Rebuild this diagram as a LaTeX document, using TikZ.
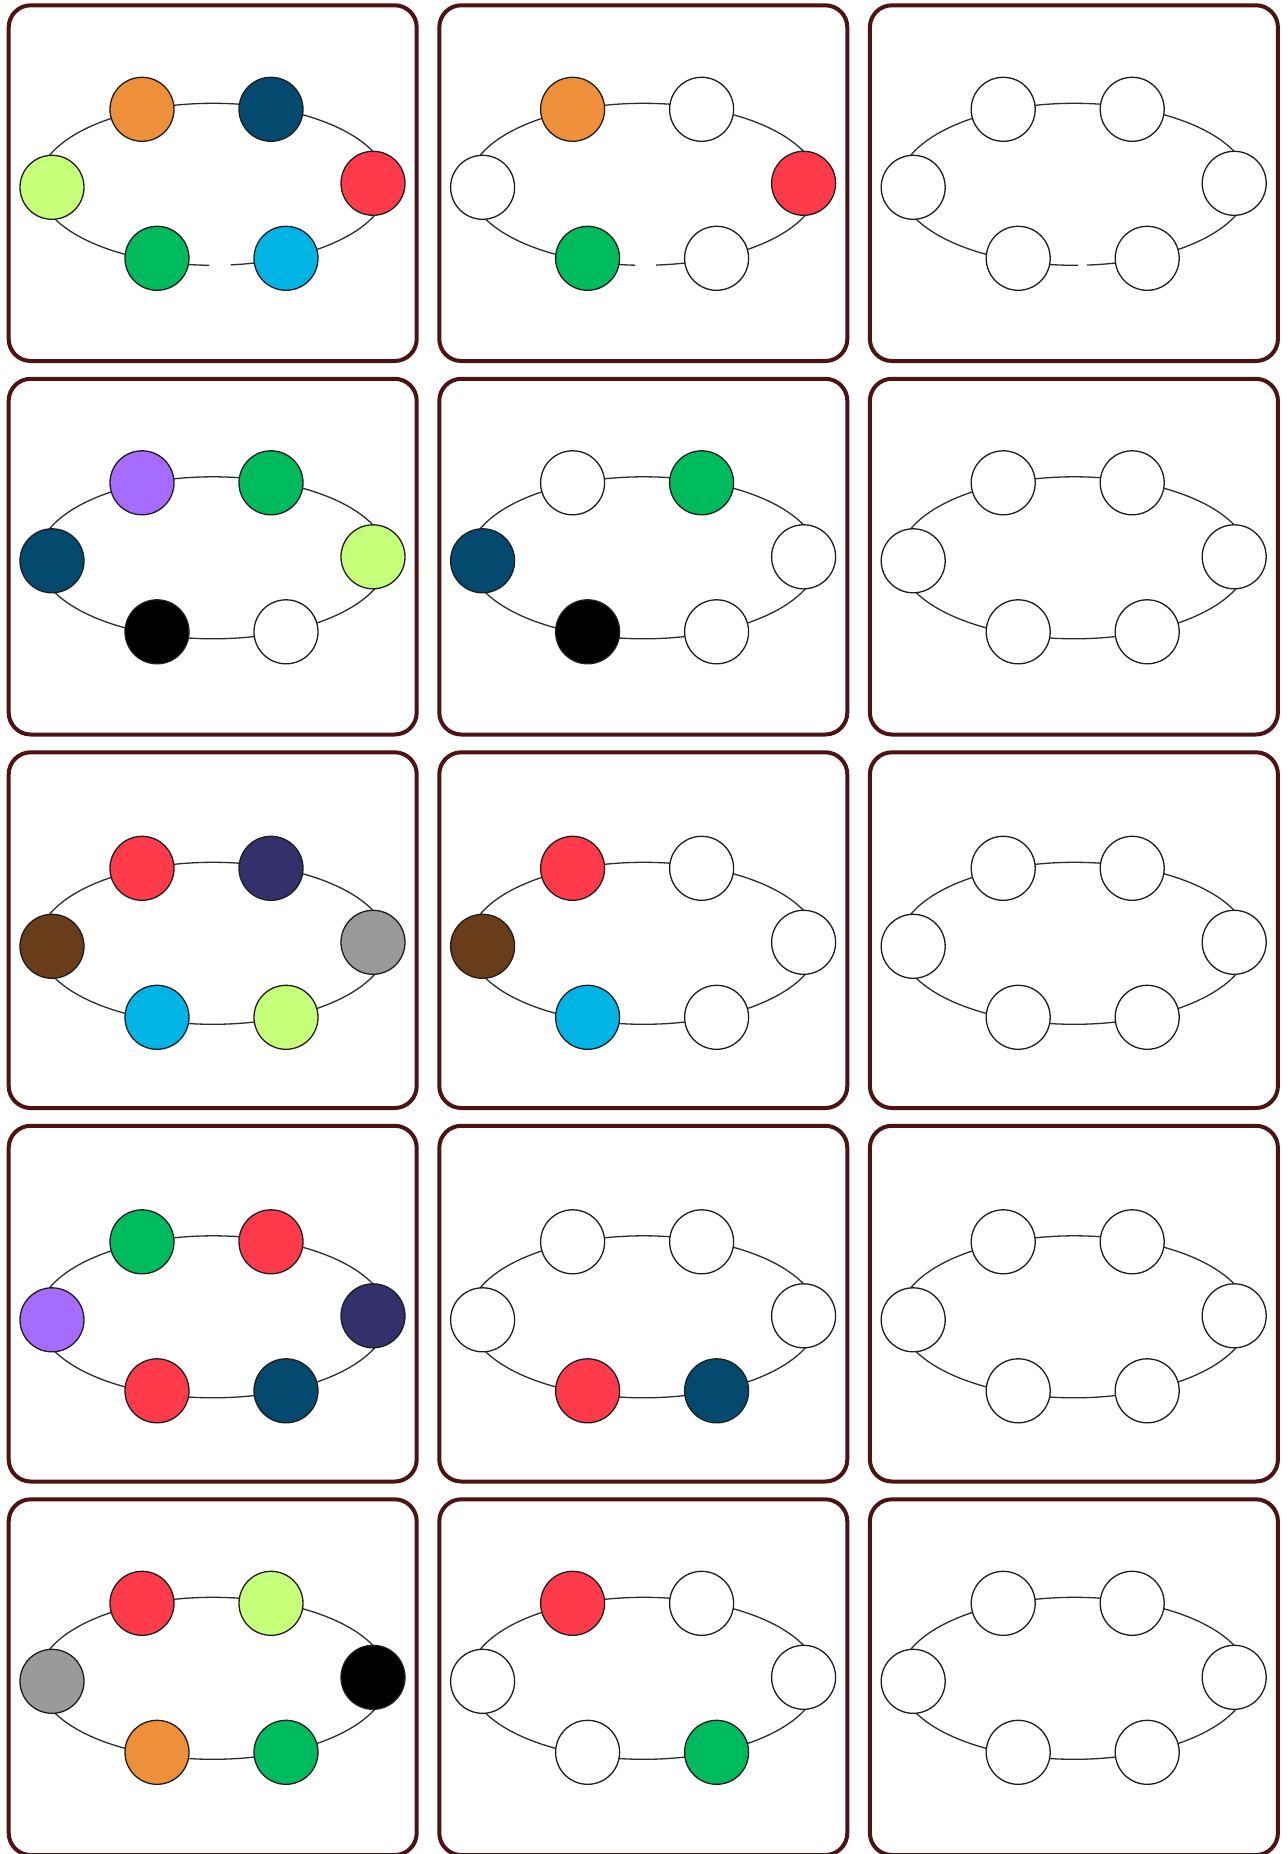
\documentclass[tikz,border=0pt]{standalone}
\definecolor{frame}{RGB}{78,18,18}
\definecolor{ringline}{RGB}{45,45,45}
\definecolor{dotline}{RGB}{30,30,30}
\definecolor{cOr}{RGB}{238,143,58}
\definecolor{cTeal}{RGB}{4,74,110}
\definecolor{cLime}{RGB}{198,255,122}
\definecolor{cRed}{RGB}{255,58,75}
\definecolor{cGreen}{RGB}{0,186,94}
\definecolor{cSky}{RGB}{0,181,230}
\definecolor{cPurple}{RGB}{166,107,255}
\definecolor{cNavy}{RGB}{51,48,108}
\definecolor{cBrown}{RGB}{106,61,26}
\definecolor{cGray}{RGB}{154,154,154}
\tikzset{
  panelbox/.style={draw=frame, line width=4pt, rounded corners=22pt, fill=white},
  ring/.style={draw=ringline, line width=1.3pt},
  dot/.style={circle, draw=dotline, line width=1.3pt, minimum size=64pt, inner sep=0pt}
}
\def\gs{0}\def\ge{0}
% #1 name, #2 shift, #3 ellipse centre y, #4..#9 colours TL TR L R BL BR
\newcommand\panel[9]{%
  \begin{scope}[shift={(#2)}]
    \draw[panelbox] (0,0) rectangle (408,355.7);
    \coordinate (#1c) at (204.3,#3);
    \draw[ring] (#1c) ++(\gs:175 and 81) arc[start angle=\gs, end angle=\ge+360, x radius=175, y radius=81];
    \node[dot, fill=#4] (#1tl) at ([shift={(-71,-75)}]#1c) {};
    \node[dot, fill=#5] (#1tr) at ([shift={(58,-75)}]#1c) {};
    \node[dot, fill=#6] (#1l)  at ([shift={(-161,3)}]#1c) {};
    \node[dot, fill=#7] (#1r)  at ([shift={(160,-1)}]#1c) {};
    \node[dot, fill=#8] (#1bl) at ([shift={(-56,74)}]#1c) {};
    \node[dot, fill=#9] (#1br) at ([shift={(73,74)}]#1c) {};
  \end{scope}}
\begin{document}
\begin{tikzpicture}[x=1pt,y=-1pt]
  \useasboundingbox (0,0) rectangle (1287,1854);
  \clip (0,0) rectangle (1287,1854);
  \fill[white] (0,0) rectangle (1287,1854);
  % row 1 (with gap at the bottom)
  \def\gs{91.3}\def\ge{84.1}
  \panel{a1}{8.7,5.3}{179}{cOr}{cTeal}{cLime}{cRed}{cGreen}{cSky}
  \def\gs{92.8}\def\ge{85.9}
  \panel{b1}{439.3,5.3}{179}{cOr}{white}{white}{cRed}{cGreen}{white}
  \def\gs{88.7}\def\ge{85.8}
  \panel{c1}{869.9,5.3}{179}{white}{white}{white}{white}{white}{white}
  \def\gs{0}\def\ge{0}
  % row 2
  \panel{a2}{8.7,378.8}{179}{cPurple}{cGreen}{cTeal}{cLime}{black}{white}
  \panel{b2}{439.3,378.8}{179}{white}{cGreen}{cTeal}{white}{black}{white}
  \panel{c2}{869.9,378.8}{179}{white}{white}{white}{white}{white}{white}
  % row 3
  \panel{a3}{8.7,752.3}{191}{cRed}{cNavy}{cBrown}{cGray}{cSky}{cLime}
  \panel{b3}{439.3,752.3}{191}{cRed}{white}{cBrown}{white}{cSky}{white}
  \panel{c3}{869.9,752.3}{191}{white}{white}{white}{white}{white}{white}
  % row 4
  \panel{a4}{8.7,1125.8}{191}{cGreen}{cRed}{cPurple}{cNavy}{cRed}{cTeal}
  \panel{b4}{439.3,1125.8}{191}{white}{white}{white}{white}{cRed}{cTeal}
  \panel{c4}{869.9,1125.8}{191}{white}{white}{white}{white}{white}{white}
  % row 5
  \panel{a5}{8.7,1499.3}{179}{cRed}{cLime}{cGray}{black}{cOr}{cGreen}
  \panel{b5}{439.3,1499.3}{179}{cRed}{white}{white}{white}{white}{cGreen}
  \panel{c5}{869.9,1499.3}{179}{white}{white}{white}{white}{white}{white}
\end{tikzpicture}
\end{document}
